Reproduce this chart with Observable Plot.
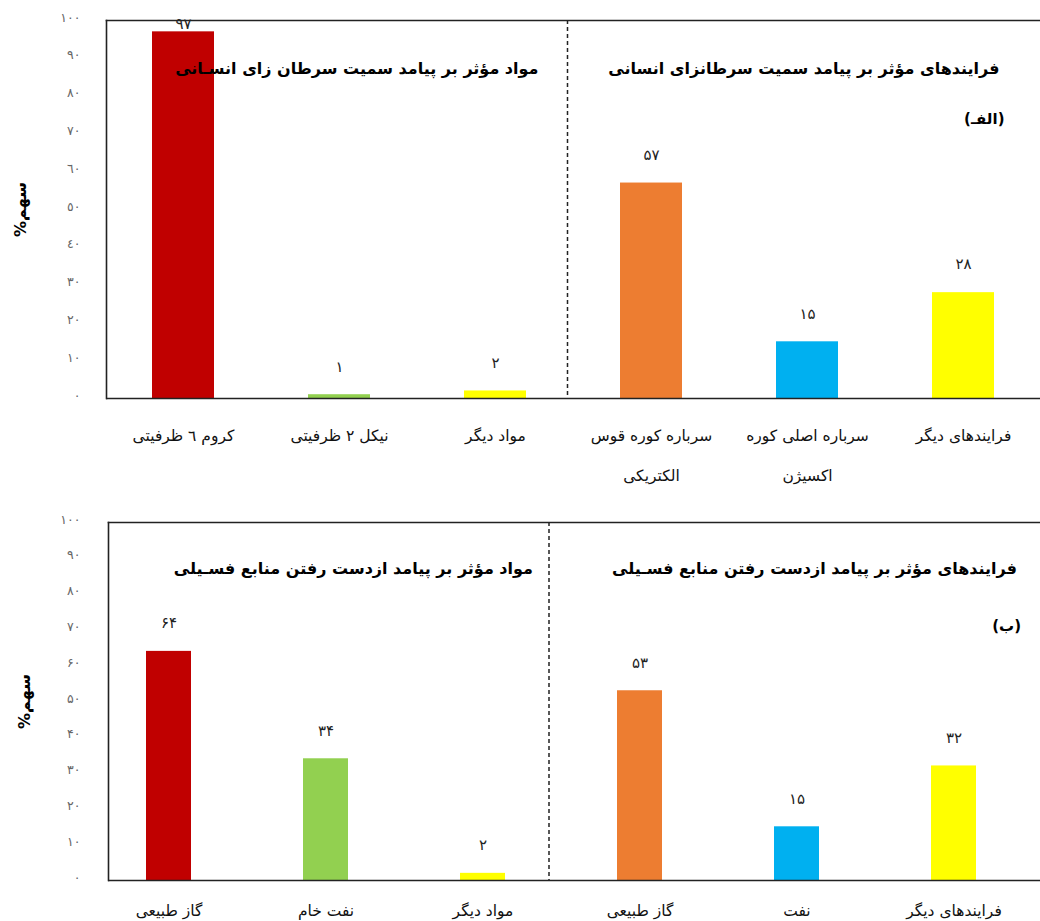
<!DOCTYPE html>
<html><head><meta charset="utf-8">
<script src="https://cdn.jsdelivr.net/npm/d3@7"></script>
<script src="https://cdn.jsdelivr.net/npm/@observablehq/plot@0.6"></script>
<style>
body{margin:0;background:#fff;}
#c svg{display:block;}
</style></head><body><div id="c"></div>
<script>
// ---- Panel (الف)
const topCategories = ["کروم ٦ ظرفیتی","نیکل ۲ ظرفیتی","مواد دیگر","سرباره کوره قوس\nالکتریکی","سرباره اصلی کوره\nاکسیژن","فرایندهای دیگر"];
const topValues = [97, 1, 2, 57, 15, 28];
const topValueLabels = ["۹۷","۱","۲","۵۷","۱۵","۲۸"];
const topColors = ["#C00000","#92D050","#FFFF00","#ED7D31","#00B0F0","#FFFF00"];
const topTickLabels = ["٠","١٠","٢٠","٣٠","٤٠","٥٠","٦٠","٧٠","٨٠","٩٠","١٠٠"];
const topTitleLeft = "مواد مؤثر بر پیامد سمیت سرطان زای انسـانی";
const topTitleRight = "فرایندهای مؤثر بر پیامد سمیت سرطانزای انسانی";
const topPanelLabel = "(الفـ)";

// ---- Panel (ب)
const bottomCategories = ["گاز طبیعی","نفت خام","مواد دیگر","گاز طبیعی","نفت","فرایندهای دیگر"];
const bottomValues = [64, 34, 2, 53, 15, 32];
const bottomValueLabels = ["۶۴","۳۴","۲","۵۳","۱۵","۳۲"];
const bottomColors = ["#C00000","#92D050","#FFFF00","#ED7D31","#00B0F0","#FFFF00"];
const bottomTickLabels = ["۰","۱۰","۲۰","۳۰","۴۰","۵۰","۶۰","۷۰","۸۰","۹۰","۱۰۰"];
const bottomTitleLeft = "مواد مؤثر بر پیامد ازدست رفتن منابع فسـیلی";
const bottomTitleRight = "فرایندهای مؤثر بر پیامد ازدست رفتن منابع فسـیلی";
const bottomPanelLabel = "(ب)";

const yLabel = "%سهم";
const FONT = "DejaVu Sans";

function panel(o) {
  const data = o.cats.map((c, i) => ({i, cat: c, value: o.values[i], label: o.labels[i], color: o.colors[i]}));
  return Plot.plot({
    width: 1040, height: o.height,
    marginTop: o.marginTop, marginBottom: o.marginBottom, marginLeft: o.marginLeft, marginRight: 0,
    x: {type: "band", domain: d3.range(o.cats.length), range: o.xRange, paddingInner: o.padInner, paddingOuter: o.padOuter, axis: null},
    y: {domain: [0, 100], axis: null},
    color: {type: "identity"},
    style: {fontFamily: FONT, background: "#fff", color: "#000", overflow: "visible"},
    marks: [
      Plot.axisY({ticks: d3.range(0, 101, 10), tickFormat: d => o.ticks[d / 10], tickSize: 0, tickPadding: o.tickPad, fontSize: 12.5, fill: "#666", label: null, dy: -3}),
      Plot.text(data, {x: "i", y: d => Math.min(d.value, o.labelCap), text: "label", dy: -28, fontSize: 15, fill: "#222"}),
      Plot.barY(data, {x: "i", y: "value", fill: "color"}),
      Plot.ruleX([3], {x: d => d, dx: o.sepDx, stroke: "#222", strokeWidth: 1.5, strokeDasharray: "4,3"}),
      Plot.frame({anchor: "left", stroke: "#222", strokeWidth: 1.6}),
      Plot.frame({anchor: "top", stroke: "#222", strokeWidth: 1.6}),
      Plot.ruleY([0], {stroke: "#222", strokeWidth: 1.6}),
      Plot.text(data, {x: "i", frameAnchor: "bottom", text: "cat", dy: o.catDy, lineAnchor: "top", lineHeight: 2.6, fontSize: 15.5, fill: "#111"}),
      Plot.text([o.titleLeft], {x: () => 2, frameAnchor: "top", text: d => d, textAnchor: "end", dx: o.tlDx, dy: o.tDy, fontSize: 16, fontWeight: "bold"}),
      Plot.text([o.titleRight], {x: () => 5, frameAnchor: "top", text: d => d, textAnchor: "end", dx: o.trDx, dy: o.tDy, fontSize: 16, fontWeight: "bold"}),
      Plot.text([o.panelLabel], {x: () => 5, frameAnchor: "top", text: d => d, textAnchor: "end", dx: o.plDx, dy: o.plDy, fontSize: 15, fontWeight: "bold"}),
      Plot.text([yLabel], {frameAnchor: "left", text: d => d, rotate: -90, textAnchor: "middle", dx: o.ylDx, fontSize: 16, fontWeight: "bold"})
    ]
  });
}

const c = document.getElementById("c");
c.appendChild(panel({
  cats: topCategories, values: topValues, labels: topValueLabels, colors: topColors, ticks: topTickLabels,
  titleLeft: topTitleLeft, titleRight: topTitleRight, panelLabel: topPanelLabel,
  height: 500, marginTop: 20, marginBottom: 102, marginLeft: 106,
  xRange: [105, 1042], padInner: 0.6, padOuter: 0.3, tickPad: 26, labelCap: 91.5,
  sepDx: -84, catDy: 14, tlDx: 43, trDx: 36, tDy: 42, plDx: 41, plDy: 93, ylDx: -86
}));
c.appendChild(panel({
  cats: bottomCategories, values: bottomValues, labels: bottomValueLabels, colors: bottomColors, ticks: bottomTickLabels,
  titleLeft: bottomTitleLeft, titleRight: bottomTitleRight, panelLabel: bottomPanelLabel,
  height: 421, marginTop: 22, marginBottom: 41, marginLeft: 108,
  xRange: [87, 1034], padInner: 0.715, padOuter: 0.3575, tickPad: 28, labelCap: 100,
  sepDx: -91, catDy: 7, tlDx: 50, trDx: 63, tDy: 40, plDx: 67, plDy: 98, ylDx: -84
}));
</script></body></html>
